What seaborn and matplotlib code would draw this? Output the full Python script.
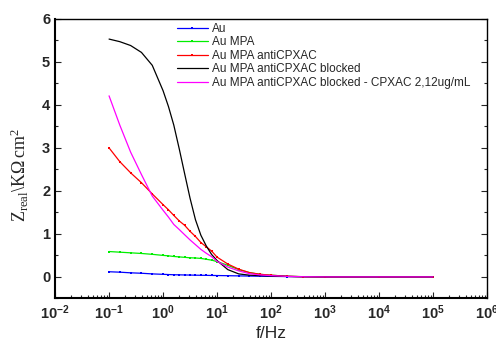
import numpy as np
import pandas as pd
import matplotlib
matplotlib.use("Agg")
import matplotlib.pyplot as plt
import matplotlib.ticker as mticker
import seaborn as sns

# ================================
# 1. Data
# ================================
freq = [0.1, 0.158, 0.251, 0.398, 0.631, 1.0, 1.26, 1.58, 2.0, 2.51, 3.16, 3.98,
        5.01, 6.31, 7.94, 10.0, 15.8, 25.1, 39.8, 63.1, 100.0, 200.0, 398.0,
        1000.0, 10000.0, 100000.0]

z_au = [0.12, 0.11, 0.095, 0.085, 0.07, 0.06, 0.055, 0.05, 0.048, 0.045, 0.043, 0.04,
        0.038, 0.036, 0.034, 0.032, 0.028, 0.024, 0.02, 0.016, 0.012, 0.008, 0.004,
        0.0, 0.0, 0.0]
z_mpa = [0.59, 0.575, 0.56, 0.545, 0.525, 0.50, 0.49, 0.475, 0.465, 0.455, 0.445, 0.44,
         0.43, 0.41, 0.39, 0.355, 0.27, 0.17, 0.10, 0.06, 0.04, 0.015, 0.005,
         0.0, 0.0, 0.0]
z_anti = [3.0, 2.68, 2.42, 2.19, 1.93, 1.68, 1.56, 1.43, 1.30, 1.20, 1.06, 0.94,
          0.80, 0.70, 0.60, 0.46, 0.30, 0.18, 0.10, 0.06, 0.04, 0.015, 0.005,
          0.0, 0.0, 0.0]
z_blocked = [5.53, 5.47, 5.38, 5.22, 4.92, 4.33, 3.96, 3.53, 2.97, 2.40, 1.83, 1.33,
             0.97, 0.72, 0.52, 0.38, 0.17, 0.07, 0.04, 0.03, 0.02, 0.01, 0.005,
             0.0, 0.0, 0.0]
z_cpxac = [4.21, 3.53, 2.90, 2.38, 1.88, 1.55, 1.39, 1.22, 1.10, 0.98, 0.86, 0.75,
           0.64, 0.55, 0.47, 0.36, 0.23, 0.14, 0.075, 0.045, 0.03, 0.012, 0.004,
           0.0, 0.0, 0.0]

labels = ["Au", "Au MPA", "Au MPA antiCPXAC", "Au MPA antiCPXAC blocked",
          "Au MPA antiCPXAC blocked - CPXAC 2,12ug/mL"]
colors = ["#0000ff", "#00ee00", "#ff0000", "#000000", "#ff00ff"]
markers = ["s", "s", "s", None, None]
series = [z_au, z_mpa, z_anti, z_blocked, z_cpxac]

# ================================
# 2. Style
# ================================
sns.set_style("ticks")
plt.rcParams['font.family'] = ['Liberation Sans', 'DejaVu Sans']
plt.rcParams['mathtext.fontset'] = 'custom'
plt.rcParams['mathtext.rm'] = 'Liberation Serif'
plt.rcParams['mathtext.it'] = 'Liberation Serif:italic'
plt.rcParams['mathtext.bf'] = 'Liberation Sans:bold'

fig = plt.figure(figsize=(4.96, 3.43), dpi=100)
ax = fig.add_axes([0.111, 0.13, 0.871, 0.815])

# ================================
# 3. Plot curves
# ================================
for vals, lab, col, mk in zip(series, labels, colors, markers):
    df = pd.DataFrame({"f": freq, "Z": vals})
    sns.lineplot(data=df, x="f", y="Z", ax=ax, color=col, lw=0.9, label=lab,
                 marker=mk, markersize=1.8, markeredgewidth=0)

ax.set_xscale("log")
ax.set_xlim(1e-2, 1e6)
ax.set_ylim(-0.5, 6)

# ticks
xmaj = [1e-2, 1e-1, 1e0, 1e1, 1e2, 1e3, 1e4, 1e5, 1e6]
ax.xaxis.set_major_locator(mticker.FixedLocator(xmaj))
ax.xaxis.set_minor_locator(mticker.LogLocator(base=10, subs=np.arange(2, 10), numticks=20))
ax.set_xticklabels([r"$\mathbf{10^{%d}}$" % int(np.log10(v)) for v in xmaj], fontsize=10.5)
ax.xaxis.set_minor_formatter(mticker.NullFormatter())

ax.yaxis.set_major_locator(mticker.MultipleLocator(1))
ax.yaxis.set_minor_locator(mticker.MultipleLocator(0.5))
ax.tick_params(axis="y", labelsize=10.5)

ax.tick_params(which="both", direction="in", top=False, right=True)
ax.tick_params(which="major", length=4, width=0.8)
ax.tick_params(which="minor", length=2.5, width=0.8)
for t in ax.get_yticklabels():
    t.set_fontweight("bold")

for s in ["left", "bottom"]:
    ax.spines[s].set_linewidth(1.5)
for s in ["top", "right"]:
    ax.spines[s].set_linewidth(1.0)
for s in ax.spines.values():
    s.set_color("black")

ax.set_xlabel("f/Hz", fontsize=12.5, labelpad=3)
ax.set_ylabel(r"$\mathrm{Z_{real}\backslash K\Omega\,cm^{2}}$", fontsize=13)
ax.yaxis.set_label_coords(-0.056, 0.44)

# ================================
# 4. Legend
# ================================
leg = ax.legend(loc="upper left", bbox_to_anchor=(0.282, 0.985), frameon=False,
                fontsize=8.5, handlelength=2.6, handletextpad=0.4, labelspacing=0.12,
                borderpad=0.0, borderaxespad=0.0)

fig.savefig("out.png", dpi=100)
